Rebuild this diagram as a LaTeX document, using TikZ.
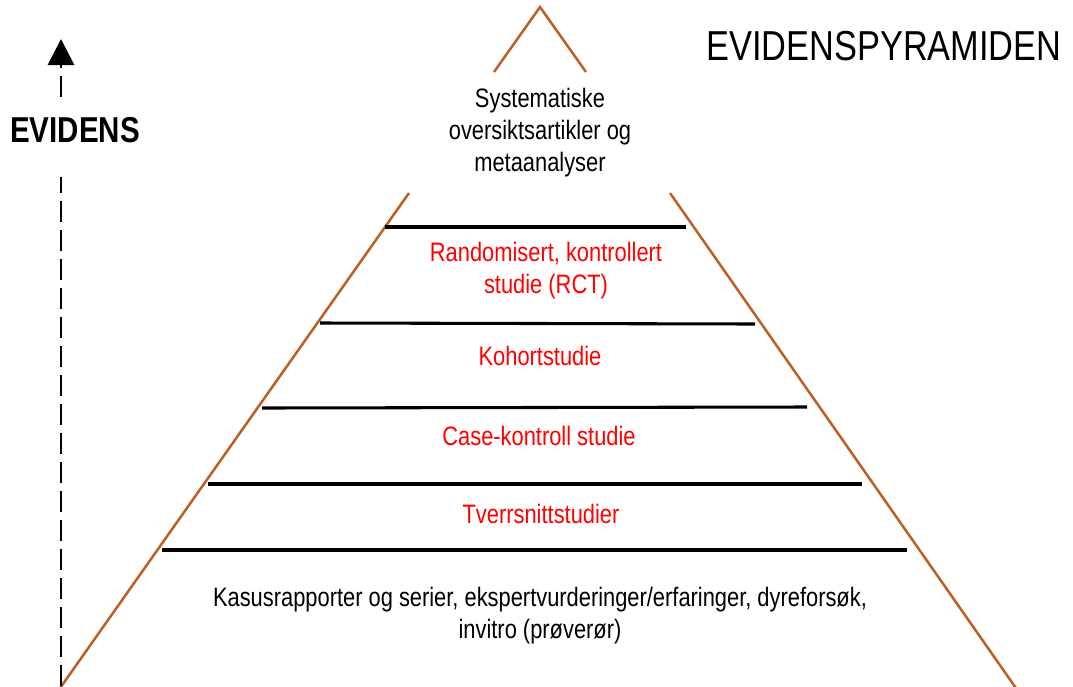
\documentclass[tikz,border=0pt]{standalone}
\usepackage{fontspec}
\usetikzlibrary{arrows.meta}
\newfontfamily\narrowfont{Liberation Sans}[FakeStretch=0.82]
\definecolor{pyrbrown}{RGB}{186,98,38}
\definecolor{lvlred}{RGB}{255,0,0}
\tikzset{
  side/.style={draw=pyrbrown, line width=1.9pt},
  layerline/.style={draw=black, line width=2.3pt},
  body/.style={font=\narrowfont\fontsize{20}{24}\selectfont, align=center, inner sep=0pt},
  redtext/.style={body, text=lvlred},
  evline/.style={draw=black, line width=2.2pt, dash pattern=on 15.75pt off 6pt},
}
\begin{document}
\begin{tikzpicture}[x=0.75pt,y=-0.75pt]
\useasboundingbox (0,0) rectangle (1073,686);
% pyramid sides
\coordinate (apex) at (540,7);
\coordinate (tl) at (494,72);
\coordinate (tr) at (586,72);
\coordinate (ls) at (409,193);
\coordinate (rs) at (670,193);
\coordinate (lb) at (58,691);
\coordinate (rb) at (1018,691);
\draw[side] (tl) -- (apex) -- (tr);
\draw[side] (ls) -- (lb);
\draw[side] (rs) -- (rb);
% layer lines
\coordinate (l1a) at (385,227); \coordinate (l1b) at (686,227);
\coordinate (l2a) at (320,323); \coordinate (l2b) at (755,324);
\coordinate (l3a) at (262,408); \coordinate (l3b) at (807,407);
\coordinate (l4a) at (208,484); \coordinate (l4b) at (862,484);
\coordinate (l5a) at (162,550); \coordinate (l5b) at (907,550);
\draw[layerline] (l1a) -- (l1b);
\draw[layerline] (l2a) -- (l2b);
\draw[layerline] (l3a) -- (l3b);
\draw[layerline] (l4a) -- (l4b);
\draw[layerline] (l5a) -- (l5b);
% texts
\node[body] (sys) at (540,133) {Systematiske\\oversiktsartikler og\\metaanalyser};
\node[redtext] (rct) at (546,271) {Randomisert, kontrollert\\studie (RCT)};
\node[redtext] (koh) at (540,356) {Kohortstudie};
\node[redtext] (cas) at (539,436) {Case-kontroll studie};
\node[redtext] (tve) at (541,514) {Tverrsnittstudier};
\node[body] (kas) at (540,616) {Kasusrapporter og serier, ekspertvurderinger/erfaringer, dyreforsøk,\\invitro (prøverør)};
\node[font=\narrowfont\fontsize{31.4}{36}\selectfont, inner sep=0pt] (title) at (884,46) {EVIDENSPYRAMIDEN};
\node[font=\narrowfont\bfseries\fontsize{27}{31}\selectfont, inner sep=0pt] (ev) at (75,130) {EVIDENS};
% evidence arrow
\coordinate (evbot) at (61,686);
\coordinate (evlow) at (61,177);
\coordinate (evhigh) at (61,97);
\coordinate (evtip) at (61,39);
\draw[evline] (evbot) -- (evlow);
\draw[evline, -{Triangle[length=19.5pt,width=19.5pt]}] (evhigh) -- (evtip);
\end{tikzpicture}
\end{document}
